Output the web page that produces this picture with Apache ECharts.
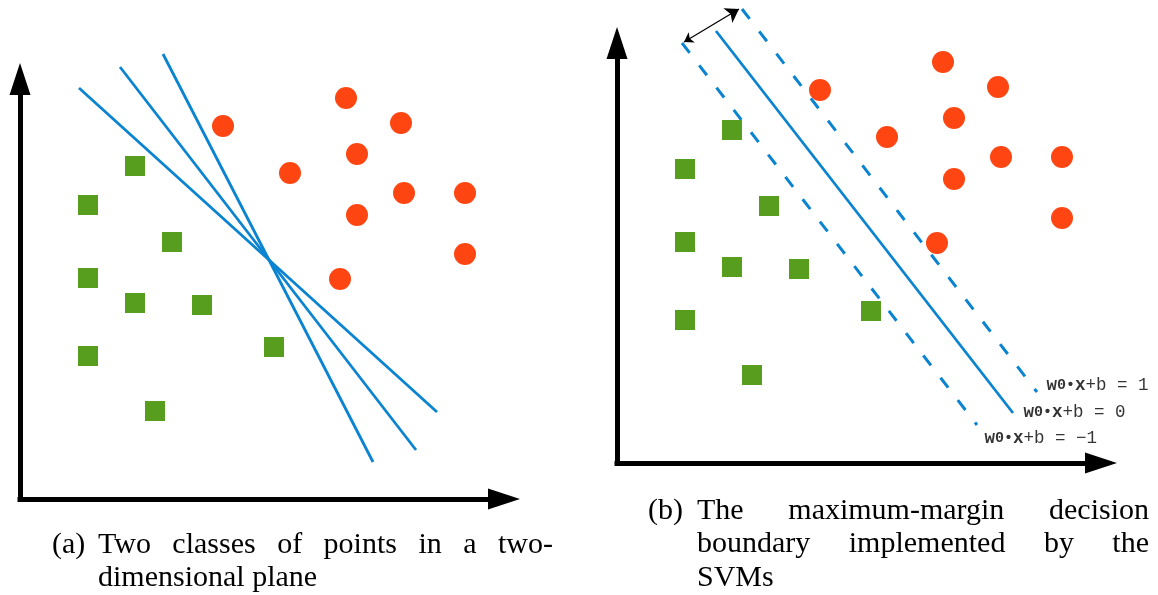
<!DOCTYPE html>
<html>
<head>
<meta charset="utf-8">
<script src="https://cdn.jsdelivr.net/npm/echarts@6/dist/echarts.min.js"></script>
<style>
html,body{margin:0;padding:0;background:#ffffff;}
#c{width:1158px;height:595px;}
</style>
</head>
<body>
<div id="c"></div>
<script>
// ---------------- data (plane units: x 0..484, y 0..420) ----------------
// Class 1 (green squares) - same points in both panels
const squareX = [115, 68, 152, 68, 115, 182, 68, 254, 135];
const squareY = [333, 294, 257, 221, 196, 194, 143, 152, 88];
// Class 2 (orange circles)
const circleX = [203, 326, 381, 270, 337, 384, 445, 337, 445, 320];
const circleY = [373, 401, 376, 326, 345, 306, 306, 284, 245, 220];

// Panel (a): three candidate separating lines [start, end]
const separatorA1 = [[59, 411], [417, 87]];
const separatorA2 = [[100, 432], [396, 49]];
const separatorA3 = [[143, 445], [353, 37]];

// Panel (b): maximum-margin boundary and margins
const marginUpper = [[125, 454], [420, 71]];
const boundary   = [[99, 432], [396, 50]];
const marginLower = [[65, 420], [360, 38]];
const marginArrow = [[67, 421], [122, 454]];

// Equation labels and their anchor points (left-middle of the text)
const eqLabels  = ['w0•x+b = 1', 'w0•x+b = 0', 'w0•x+b = −1'];
const eqAnchorX = [430, 407, 368];
const eqAnchorY = [77, 50, 24];

// Captions
const captionALabel = '(a)';
const captionALines = ['Two classes of points in a two-', 'dimensional plane'];
const captionBLabel = '(b)';
const captionBLines = ['The maximum-margin decision', 'boundary implemented by the', 'SVMs'];

// ---------------- styling ----------------
const BLUE = '#0a84d0';
const GREEN = '#579e1f';
const RED = '#ff4612';
const CAP_SIZE = 30;
const CAP_FONT_FAMILY = '"Liberation Serif", "Times New Roman", serif';
const LINE_GAP = 33.5;
const MONO = '"Liberation Mono", "Courier New", monospace';
const EQ_SIZE = 17.5;

const chart = echarts.init(document.getElementById('c'), null, {renderer: 'canvas'});

const squares = squareX.map((x, i) => [x, squareY[i]]);
const circles = circleX.map((x, i) => [x, circleY[i]]);

function axisCommon(gi, max) {
  return {
    type: 'value', gridIndex: gi, min: 0, max: max,
    axisLine: {
      show: true, onZero: false,
      symbol: ['none', 'triangle'], symbolSize: [21, 32],
      lineStyle: {color: '#000', width: 5, cap: 'square'}
    },
    axisTick: {show: false}, axisLabel: {show: false}, splitLine: {show: false}
  };
}

function lineSeries(gi, data, dashed) {
  return {
    type: 'line', xAxisIndex: gi, yAxisIndex: gi, data: data,
    showSymbol: false, symbol: 'none', clip: false, silent: true, z: 2,
    lineStyle: {color: BLUE, width: dashed ? 3 : 2.8, type: dashed ? [12.5, 15.7] : 'solid', cap: 'butt'}
  };
}

function pointSeries(gi) {
  return [
    {type: 'scatter', xAxisIndex: gi, yAxisIndex: gi, data: squares, symbol: 'rect', symbolSize: 20,
     itemStyle: {color: GREEN, opacity: 1}, silent: true, z: 3},
    {type: 'scatter', xAxisIndex: gi, yAxisIndex: gi, data: circles, symbol: 'circle', symbolSize: 22,
     itemStyle: {color: RED, opacity: 1}, silent: true, z: 3}
  ];
}

function richEq(s) {
  const m = s.match(/^w0•x(.*)$/);
  if (!m) return s;
  return '{b|w}{s|0}{d|•}{b|x}{r|' + m[1] + '}';
}

// justified captions
const measureCtx = document.createElement('canvas').getContext('2d');
function measure(t) {
  measureCtx.font = CAP_SIZE + 'px ' + CAP_FONT_FAMILY;
  return measureCtx.measureText(t).width;
}
function textEl(t, x, baseline) {
  return {
    type: 'text', x: x, y: baseline - 0.3375 * CAP_SIZE, silent: true,
    style: {text: t, fontSize: CAP_SIZE, fontFamily: CAP_FONT_FAMILY, fill: '#000',
            align: 'left', verticalAlign: 'middle'}
  };
}
function captionElements(label, lines, left, indent, right, firstBaseline) {
  const els = [textEl(label, left, firstBaseline)];
  lines.forEach((line, li) => {
    const y = firstBaseline + li * LINE_GAP;
    const words = line.split(' ');
    if (li === lines.length - 1 || words.length === 1) {
      els.push(textEl(line, indent, y));
      return;
    }
    const widths = words.map(measure);
    const total = widths.reduce((a, b) => a + b, 0);
    const gap = (right - indent - total) / (words.length - 1);
    let x = indent;
    words.forEach((w, i) => { els.push(textEl(w, x, y)); x += widths[i] + gap; });
  });
  return els;
}

const graphics = []
  .concat(captionElements(captionALabel, captionALines, 52, 98, 553, 555))
  .concat(captionElements(captionBLabel, captionBLines, 648, 697, 1149, 521));

const option = {
  animation: false,
  backgroundColor: '#ffffff',
  grid: [
    {left: 20, top: 79, width: 484, height: 420, outerBoundsMode: 'none', containLabel: false},
    {left: 617, top: 43, width: 484, height: 420, outerBoundsMode: 'none', containLabel: false}
  ],
  xAxis: [axisCommon(0, 484), axisCommon(1, 484)],
  yAxis: [axisCommon(0, 420), axisCommon(1, 420)],
  graphic: {elements: graphics},
  series: [
    lineSeries(0, separatorA1, false),
    lineSeries(0, separatorA2, false),
    lineSeries(0, separatorA3, false),
    lineSeries(1, marginUpper, true),
    lineSeries(1, boundary, false),
    lineSeries(1, marginLower, true),
    {
      type: 'lines', coordinateSystem: 'cartesian2d', xAxisIndex: 1, yAxisIndex: 1,
      clip: false, silent: true, z: 4,
      symbol: ['arrow', 'arrow'], symbolSize: [9, 13],
      lineStyle: {color: '#000', width: 1.2, opacity: 1, curveness: 0},
      data: [{coords: marginArrow}]
    },
    ...pointSeries(0),
    ...pointSeries(1),
    {
      type: 'scatter', xAxisIndex: 1, yAxisIndex: 1, silent: true, z: 5,
      symbol: 'circle', symbolSize: 1, itemStyle: {color: 'rgba(0,0,0,0)'},
      data: eqAnchorX.map((x, i) => ({value: [x, eqAnchorY[i]], name: eqLabels[i]})),
      label: {
        show: true, position: [0, 0], align: 'left', verticalAlign: 'middle',
        formatter: p => richEq(p.name),
        fontFamily: MONO, fontSize: EQ_SIZE, color: '#000',
        rich: {
          b: {fontFamily: MONO, fontSize: EQ_SIZE, fontWeight: 'bold', color: '#000'},
          s: {fontFamily: MONO, fontSize: 15, fontWeight: 'bold', color: '#000'},
          d: {fontFamily: MONO, fontSize: 15, fontWeight: 'bold', color: '#000'},
          r: {fontFamily: MONO, fontSize: EQ_SIZE, color: '#000'}
        }
      }
    }
  ]
};
chart.setOption(option);
</script>
</body>
</html>
